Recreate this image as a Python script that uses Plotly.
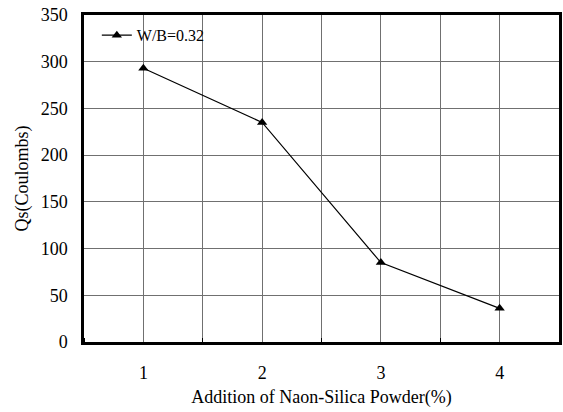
import plotly.graph_objects as go

additions = [1, 2, 3, 4]
qs_values = [293, 235, 85, 36]
series_name = "W/B=0.32"
y_ticks = [0, 50, 100, 150, 200, 250, 300, 350]

FONT = "Liberation Serif"

fig = go.Figure()
fig.add_trace(go.Scatter(
    x=additions, y=qs_values, name=series_name, mode="lines+markers",
    line=dict(color="black", width=1.2),
    marker=dict(symbol="triangle-up", size=9, color="black"),
    showlegend=True,
))

fig.update_layout(
    width=563, height=412,
    margin=dict(l=84, r=1, t=15, b=70),
    paper_bgcolor="white", plot_bgcolor="white",
    font=dict(family=FONT, size=18, color="black"),
    showlegend=True,
    legend=dict(x=0.027, y=0.99, xanchor="left", yanchor="top",
                bgcolor="rgba(0,0,0,0)", borderwidth=0,
                font=dict(family=FONT, size=16, color="black")),
    xaxis=dict(
        range=[0.5, 4.5], tickvals=additions, ticktext=[str(v) for v in additions],
        showgrid=True, gridcolor="#707070", gridwidth=1.2,
        minor=dict(tick0=0.5, dtick=1, showgrid=True, gridcolor="#707070", gridwidth=1.2,
                   ticks="inside", ticklen=4, tickcolor="black"),
        ticks="", showline=True, linecolor="black", linewidth=2.5, mirror=True,
        zeroline=False, ticklabelstandoff=13,
        title=dict(text="Addition of Naon-Silica Powder(%)", standoff=9,
                   font=dict(family=FONT, size=18)),
    ),
    yaxis=dict(
        range=[0, 350], tickvals=y_ticks,
        showgrid=True, gridcolor="#707070", gridwidth=1.2,
        ticks="", showline=True, linecolor="black", linewidth=2.5, mirror=True,
        zeroline=False, ticklabelstandoff=10,
        title=dict(text="Qs(Coulombs)", standoff=8, font=dict(family=FONT, size=18)),
    ),
)

fig.write_html("out.html")
